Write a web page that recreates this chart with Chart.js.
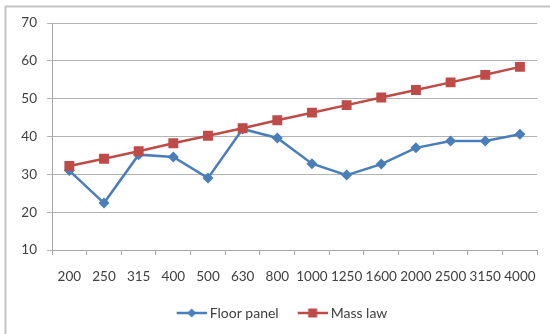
<!DOCTYPE html>
<html>
<head>
<meta charset="utf-8">
<script src="https://cdn.jsdelivr.net/npm/chart.js@4/dist/chart.umd.min.js"></script>
<style>
  html, body { margin: 0; padding: 0; background: #fff; }
  #wrap { position: relative; width: 550px; height: 334px; }
</style>
</head>
<body>
<div id="wrap"><canvas id="c" width="550" height="334"></canvas></div>
<script>
// Third-octave band centre frequencies (Hz)
const bands = ['200', '250', '315', '400', '500', '630', '800', '1000', '1250', '1600', '2000', '2500', '3150', '4000'];
// Measured sound reduction of the floor panel (dB)
const floorPanel = [31.0, 22.4, 35.2, 34.6, 29.0, 42.0, 39.6, 32.8, 29.8, 32.7, 37.0, 38.8, 38.8, 40.6];
// Mass-law prediction (dB)
const massLaw = [32.2, 34.1, 36.1, 38.2, 40.2, 42.2, 44.3, 46.3, 48.3, 50.3, 52.3, 54.3, 56.3, 58.4];
// Value axis ticks
const yMin = 10, yMax = 70, yStep = 10;

const BLUE = '#4A7EBB';
const RED = '#BE4B48';
const TEXT = '#404040';
const FONT = 'Lato';

// Small line-with-marker swatch used as the legend symbol
// (drawn in the right-hand part of the canvas so it sits close to its label)
function swatch(color, kind) {
  const cv = document.createElement('canvas');
  cv.width = 38; cv.height = 14;
  const g = cv.getContext('2d');
  g.strokeStyle = color; g.lineWidth = 2.5;
  g.beginPath(); g.moveTo(8, 7); g.lineTo(38, 7); g.stroke();
  g.fillStyle = color;
  g.beginPath();
  if (kind === 'diamond') {
    g.moveTo(23, 2.5); g.lineTo(27.5, 7); g.lineTo(23, 11.5); g.lineTo(18.5, 7); g.closePath();
  } else {
    g.rect(18.5, 2.5, 9, 9);
  }
  g.fill();
  return cv;
}
const legendSymbols = [swatch(BLUE, 'diamond'), swatch(RED, 'square')];

// Light frame round the chart
const framePlugin = {
  id: 'frame',
  beforeDraw(chart) {
    const ctx = chart.ctx;
    ctx.save();
    ctx.strokeStyle = '#c4c4c4';
    ctx.lineWidth = 2;
    ctx.beginPath();
    ctx.moveTo(5.5, 334); ctx.lineTo(5.5, 6.5); ctx.lineTo(550, 6.5);
    ctx.stroke();
    ctx.restore();
  }
};

new Chart(document.getElementById('c'), {
  type: 'line',
  data: {
    labels: bands,
    datasets: [
      {
        label: 'Floor panel',
        data: floorPanel,
        borderColor: BLUE,
        backgroundColor: BLUE,
        borderWidth: 2.5,
        pointStyle: 'rectRot',
        pointRadius: 5.5,
        pointHoverRadius: 5.5,
        pointBorderWidth: 0,
        tension: 0,
        order: 1
      },
      {
        label: 'Mass law',
        data: massLaw,
        borderColor: RED,
        backgroundColor: RED,
        borderWidth: 2.5,
        pointStyle: 'rect',
        pointRadius: 7,
        pointHoverRadius: 7,
        pointBorderWidth: 0,
        tension: 0,
        order: 0
      }
    ]
  },
  options: {
    responsive: false,
    animation: false,
    events: [],
    layout: { padding: { left: 10, right: 0, top: 23, bottom: 4 } },
    scales: {
      x: {
        offset: true,
        grid: { offset: true, drawOnChartArea: false, drawTicks: true, tickLength: 5, color: '#a6a6a6' },
        border: { display: true, color: '#a6a6a6', width: 1 },
        ticks: { color: TEXT, font: { family: FONT, size: 13.5 }, padding: 14, maxRotation: 0, autoSkip: false },
        afterFit(s) { s.height = 41; }
      },
      y: {
        min: yMin, max: yMax,
        ticks: { stepSize: yStep, color: TEXT, font: { family: FONT, size: 13.5 }, padding: 10 },
        grid: { color: '#b3b3b3', tickLength: 5, drawTicks: true },
        border: { display: true, color: '#a6a6a6', width: 1 },
        afterFit(s) { s.width = 42; }
      },
      yRight: {
        position: 'right',
        display: true,
        grid: { display: false, drawTicks: false },
        border: { display: false },
        ticks: { display: false },
        afterFit(s) { s.width = 12; }
      }
    },
    plugins: {
      tooltip: { enabled: false },
      legend: {
        position: 'bottom',
        labels: {
          usePointStyle: true,
          pointStyleWidth: 30,
          padding: 15,
          color: TEXT,
          font: { family: FONT, size: 14 },
          generateLabels(chart) {
            return chart.data.datasets.map((ds, i) => ({
              text: ds.label,
              fillStyle: ds.backgroundColor,
              strokeStyle: ds.borderColor,
              lineWidth: 0,
              pointStyle: legendSymbols[i],
              fontColor: TEXT,
              hidden: false,
              datasetIndex: i
            }));
          }
        }
      }
    }
  },
  plugins: [framePlugin]
});
</script>
</body>
</html>
